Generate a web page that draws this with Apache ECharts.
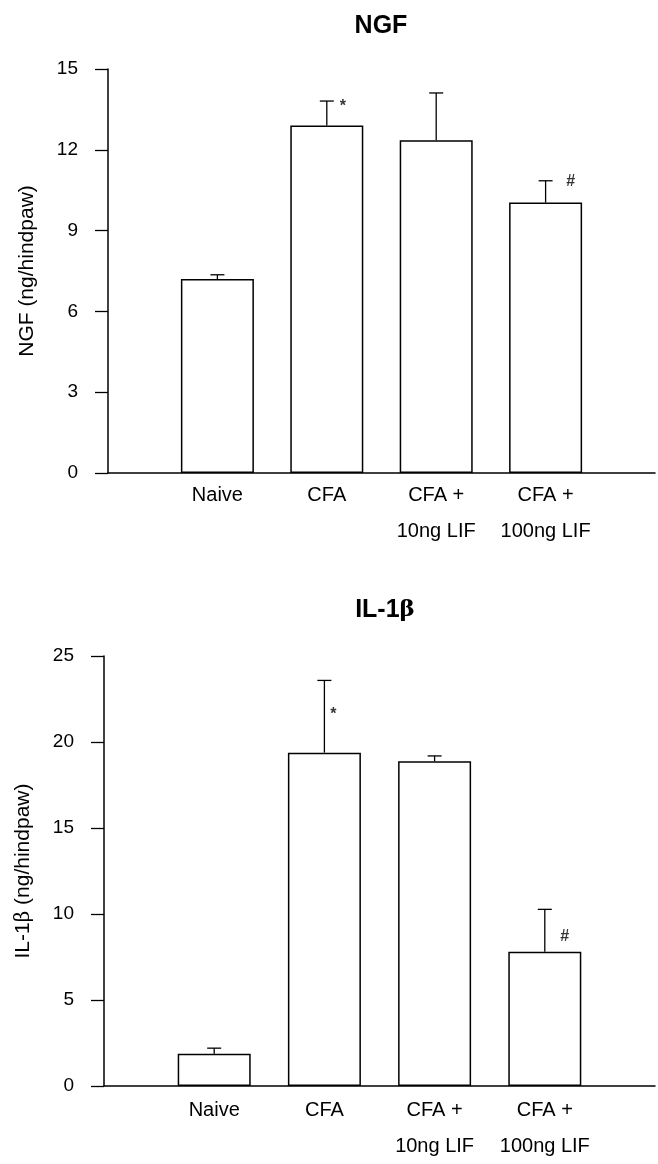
<!DOCTYPE html>
<html>
<head>
<meta charset="utf-8">
<script src="https://cdn.jsdelivr.net/npm/echarts@6/dist/echarts.min.js"></script>
<style>
  html, body { margin: 0; padding: 0; background: #fff; }
  #chart { width: 658px; height: 1164px; }
</style>
</head>
<body>
<div id="chart"></div>
<script>
// data
const categories = ["Naive", "CFA", "CFA +\n10ng LIF", "CFA +\n100ng LIF"]
const positions = [1, 2, 3, 4]

const ngfMean = [7.2, 12.9, 12.35, 10.04]
const ngfErr = [0.16, 0.91, 1.76, 0.81]
const ngfMarks = ["", "*", "", "#"]
const ngfMarkY = [null, 13.6, null, 10.82]

const il1bMean = [1.87, 19.38, 18.88, 7.8]
const il1bErr = [0.33, 4.2, 0.31, 2.47]
const il1bMarks = ["", "*", "", "#"]
const il1bMarkY = [null, 21.6, null, 8.7]

const FONT = "Liberation Sans, Arial, sans-serif"

const myE = echarts.init(document.getElementById("chart"))

// upward-only error bar with a small cap
const errorItem = (params, api) => {
  const x = api.value(0)
  const p0 = api.coord([x, api.value(1)])
  const p1 = api.coord([x, api.value(2)])
  const cap = 7
  const st = { stroke: "#000", lineWidth: 1.3 }
  return {
    type: "group",
    children: [
      { type: "line", shape: { x1: p0[0], y1: p0[1], x2: p1[0], y2: p1[1] }, style: st },
      { type: "line", shape: { x1: p1[0] - cap, y1: p1[1], x2: p1[0] + cap, y2: p1[1] }, style: st },
    ],
  }
}

const xAxisFor = (idx, labelMargin) => ({
  type: "value",
  gridIndex: idx,
  min: 0,
  max: 5,
  interval: 1,
  splitLine: { show: false },
  axisTick: { show: false },
  axisLine: { lineStyle: { color: "#000", width: 1.5 } },
  axisLabel: {
    formatter: (v) => categories[v - 1] || "",
    color: "#000",
    fontFamily: FONT,
    fontSize: 20,
    lineHeight: 36,
    verticalAlign: "top",
    margin: labelMargin,
  },
})

const yAxisFor = (idx, max, step, name) => ({
  type: "value",
  gridIndex: idx,
  min: 0,
  max: max,
  interval: step,
  name: name,
  nameLocation: "middle",
  nameGap: 70,
  nameTextStyle: { color: "#000", fontFamily: FONT, fontSize: 21, rich: { g: { fontFamily: "DejaVu Serif", fontSize: 20 } } },
  splitLine: { show: false },
  axisLine: { show: true, lineStyle: { color: "#000", width: 1.5 } },
  axisTick: { show: true, length: 13, lineStyle: { color: "#000", width: 1.3 } },
  axisLabel: { color: "#000", fontFamily: FONT, fontSize: 19, margin: 30 },
})

const barsFor = (idx, mean) => ({
  type: "bar",
  xAxisIndex: idx,
  yAxisIndex: idx,
  barWidth: 73,
  itemStyle: { color: "#fff", borderColor: "#000", borderWidth: 1.5 },
  data: positions.map((p, i) => [p, mean[i]]),
  z: 2,
})

const errorsFor = (idx, mean, err) => ({
  type: "custom",
  xAxisIndex: idx,
  yAxisIndex: idx,
  renderItem: errorItem,
  data: positions.map((p, i) => [p, mean[i], mean[i] + err[i]]),
  z: 3,
})

const marksFor = (idx, marks, ys, offsets) => ({
  type: "scatter",
  xAxisIndex: idx,
  yAxisIndex: idx,
  symbolSize: 0,
  z: 4,
  data: positions
    .map((p, i) => ({ value: [p, ys[i]], mark: marks[i], off: offsets[i] }))
    .filter((d) => d.mark)
    .map((d) => ({
      value: d.value,
      label: {
        show: true,
        position: "inside",
        offset: d.off,
        formatter: d.mark,
        color: "#000",
        fontFamily: FONT,
        fontWeight: "bold",
        fontSize: 16,
      },
    })),
})

let option = {
  animation: false,
  backgroundColor: "#fff",
  title: [
    {
      text: "NGF",
      left: 376,
      top: 9,
      textAlign: "center",
      textStyle: { color: "#000", fontFamily: FONT, fontWeight: "bold", fontSize: 25 },
    },
    {
      text: "{b|IL-1}{g|β}",
      left: 380,
      top: 593,
      textAlign: "center",
      textStyle: {
        rich: {
          b: { color: "#000", fontFamily: FONT, fontWeight: "bold", fontSize: 25 },
          g: { color: "#000", fontFamily: "DejaVu Serif", fontSize: 23 },
        },
      },
    },
  ],
  grid: [
    { left: 108, top: 69, width: 551, height: 404 },
    { left: 104, top: 656, width: 551, height: 436 },
  ],
  xAxis: [xAxisFor(0, 4), xAxisFor(1, 6)],
  yAxis: [
    yAxisFor(0, 15, 3, "NGF (ng/hindpaw)"),
    yAxisFor(1, 25, 5, "IL-1{g|β} (ng/hindpaw)"),
  ],
  series: [
    barsFor(0, ngfMean),
    errorsFor(0, ngfMean, ngfErr),
    marksFor(0, ngfMarks, ngfMarkY, [null, [16, 0], null, [25, 0]]),
    barsFor(1, il1bMean),
    errorsFor(1, il1bMean, il1bErr),
    marksFor(1, il1bMarks, il1bMarkY, [null, [9, 0], null, [20, 0]]),
  ],
}
myE.setOption(option)
window.addEventListener("resize", () => {
  myE.resize()
})
</script>
</body>
</html>
